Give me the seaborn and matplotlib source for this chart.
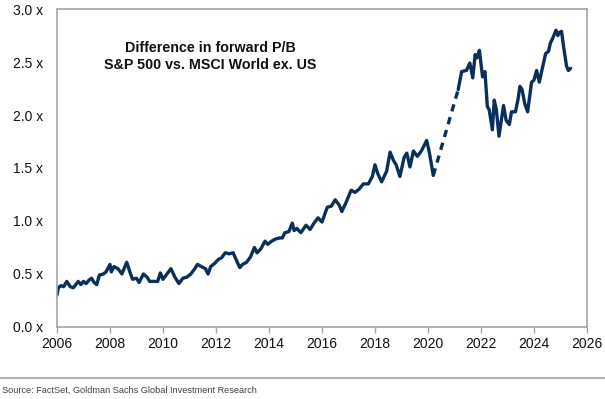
import pandas as pd
import seaborn as sns
import matplotlib.pyplot as plt

# Data (decimal years, forward P/B difference)
years_a = [2006.00, 2006.05, 2006.15, 2006.25, 2006.37, 2006.50, 2006.62, 2006.80, 2006.90, 2007.00,
           2007.10, 2007.20, 2007.30, 2007.40, 2007.50, 2007.60, 2007.75, 2007.85, 2008.00, 2008.05,
           2008.15, 2008.30, 2008.45, 2008.63, 2008.75, 2008.85, 2009.00, 2009.10, 2009.26, 2009.40,
           2009.50, 2009.65, 2009.80, 2009.90, 2010.00, 2010.15, 2010.30, 2010.45, 2010.60, 2010.75,
           2010.90, 2011.05, 2011.20, 2011.30, 2011.45, 2011.60, 2011.70, 2011.80, 2011.95, 2012.10,
           2012.20, 2012.35, 2012.50, 2012.65, 2012.75, 2012.90, 2013.00, 2013.15, 2013.30, 2013.45,
           2013.55, 2013.70, 2013.85, 2013.95, 2014.10, 2014.25, 2014.40, 2014.50, 2014.60, 2014.75,
           2014.88, 2014.95, 2015.05, 2015.20, 2015.40, 2015.55, 2015.70, 2015.85, 2016.00, 2016.20,
           2016.35, 2016.50, 2016.65, 2016.75, 2016.90, 2017.10, 2017.25, 2017.40, 2017.56, 2017.75,
           2017.90, 2018.00, 2018.10, 2018.25, 2018.44, 2018.57, 2018.70, 2018.80, 2018.94, 2019.10,
           2019.20, 2019.32, 2019.45, 2019.60, 2019.75, 2019.95, 2020.05, 2020.20]
values_a = [0.30, 0.37, 0.39, 0.38, 0.43, 0.38, 0.37, 0.43, 0.40, 0.43,
            0.41, 0.44, 0.46, 0.42, 0.40, 0.49, 0.50, 0.52, 0.59, 0.52,
            0.57, 0.55, 0.50, 0.61, 0.52, 0.45, 0.46, 0.42, 0.50, 0.47,
            0.43, 0.43, 0.43, 0.51, 0.45, 0.50, 0.55, 0.47, 0.41, 0.46,
            0.47, 0.50, 0.55, 0.59, 0.57, 0.55, 0.50, 0.57, 0.60, 0.64,
            0.65, 0.70, 0.69, 0.70, 0.64, 0.56, 0.59, 0.61, 0.66, 0.75,
            0.70, 0.74, 0.81, 0.78, 0.81, 0.83, 0.84, 0.84, 0.89, 0.90,
            0.98, 0.91, 0.93, 0.89, 0.96, 0.92, 0.98, 1.03, 0.99, 1.13,
            1.14, 1.20, 1.15, 1.09, 1.17, 1.29, 1.27, 1.30, 1.35, 1.35,
            1.42, 1.53, 1.45, 1.37, 1.47, 1.65, 1.57, 1.53, 1.42, 1.60,
            1.64, 1.51, 1.66, 1.61, 1.66, 1.76, 1.65, 1.43]

# gap in the data (drawn dashed)
years_gap = [2020.20, 2021.14]
values_gap = [1.43, 2.24]

years_b = [2021.14, 2021.27, 2021.45, 2021.58, 2021.69, 2021.78, 2021.85, 2021.94, 2022.06, 2022.15,
           2022.24, 2022.31, 2022.43, 2022.50, 2022.58, 2022.68, 2022.85, 2022.95, 2023.07, 2023.15,
           2023.30, 2023.40, 2023.47, 2023.55, 2023.65, 2023.76, 2023.91, 2024.00, 2024.10, 2024.20,
           2024.44, 2024.55, 2024.62, 2024.70, 2024.83, 2024.90, 2024.97, 2025.04, 2025.12, 2025.23,
           2025.30, 2025.38]
values_b = [2.24, 2.41, 2.42, 2.49, 2.35, 2.57, 2.54, 2.61, 2.36, 2.41,
            2.08, 2.05, 1.86, 2.14, 2.05, 1.80, 2.09, 1.95, 1.91, 2.03,
            2.03, 2.15, 2.27, 2.24, 2.11, 2.03, 2.31, 2.33, 2.42, 2.31,
            2.58, 2.60, 2.68, 2.72, 2.80, 2.75, 2.78, 2.79, 2.64, 2.46,
            2.42, 2.44]

df_a = pd.DataFrame({"year": years_a, "pb": values_a})
df_gap = pd.DataFrame({"year": years_gap, "pb": values_gap})
df_b = pd.DataFrame({"year": years_b, "pb": values_b})

navy = "#0B2F5B"
grey = "#A6A6A6"

sns.set_style("white")
plt.rcParams["font.family"] = ["Liberation Sans", "DejaVu Sans"]

fig = plt.figure(figsize=(6.05, 3.99), dpi=100)
ax = fig.add_axes([0.0942, 0.1805, 0.8760, 0.7969])

sns.lineplot(data=df_a, x="year", y="pb", ax=ax, color=navy, linewidth=2.4)
sns.lineplot(data=df_b, x="year", y="pb", ax=ax, color=navy, linewidth=2.4)
sns.lineplot(data=df_gap, x="year", y="pb", ax=ax, color=navy, linewidth=2.4,
             dashes=False, linestyle=(0, (2.2, 1.8)))

ax.set_xlim(2006, 2026)
ax.set_ylim(0, 3.0)
ax.set_xticks(range(2006, 2027, 2))
ax.set_yticks([0, 0.5, 1.0, 1.5, 2.0, 2.5, 3.0])
ax.set_yticklabels([f"{v:.1f} x" for v in [0, 0.5, 1.0, 1.5, 2.0, 2.5, 3.0]])
ax.set_xlabel("")
ax.set_ylabel("")

for s in ax.spines.values():
    s.set_color(grey)
    s.set_linewidth(1.2)

ax.tick_params(axis="x", direction="out", length=4, width=1, color=grey,
               labelsize=10, labelcolor="#111111", pad=3, bottom=True)
ax.tick_params(axis="y", length=0, labelsize=10, labelcolor="#111111", pad=10)

ax.text(0.29, 0.85, "Difference in forward P/B\nS&P 500 vs. MSCI World ex. US",
        transform=ax.transAxes, ha="center", va="center", fontsize=10.3,
        fontweight="bold", linespacing=1.3, color="#111111")

# separator line and source note
fig.add_artist(plt.Line2D([0, 1], [1 - 378 / 399, 1 - 378 / 399],
                          transform=fig.transFigure, color="#B0B0B0", linewidth=1.5))
fig.text(0.004, 1 - 390 / 399, "Source: FactSet, Goldman Sachs Global Investment Research",
         ha="left", va="center", fontsize=6.6, color="#404040",
         family=["Liberation Sans Narrow", "Liberation Sans", "DejaVu Sans"])

fig.savefig("out.png", dpi=100)
